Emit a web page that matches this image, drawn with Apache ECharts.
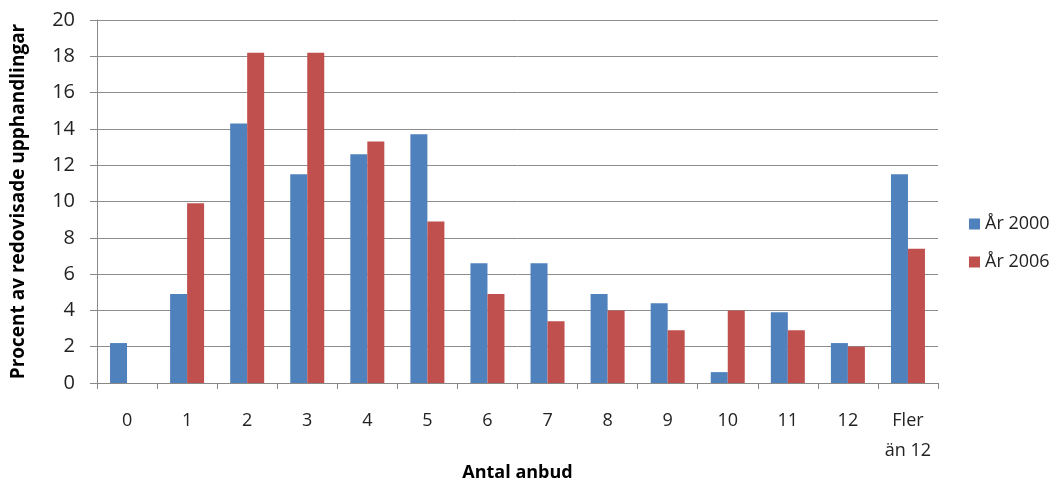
<!DOCTYPE html>
<html><head><meta charset="utf-8">
<script src="https://cdn.jsdelivr.net/npm/echarts@6/dist/echarts.min.js"></script>
<style>html,body{margin:0;padding:0;background:#fff}#c{width:1062px;height:483px}</style>
</head><body><div id="c"></div>
<script>
const categories = ['0','1','2','3','4','5','6','7','8','9','10','11','12','Fler\nän 12'];
const year2000 = [2.2, 4.9, 14.3, 11.5, 12.6, 13.7, 6.6, 6.6, 4.9, 4.4, 0.6, 3.9, 2.2, 11.5];
const year2006 = [0, 9.9, 18.2, 18.2, 13.3, 8.9, 4.9, 3.4, 4.0, 2.9, 4.0, 2.9, 2.0, 7.4];
const yTicks = {min: 0, max: 20, interval: 2};
const FONT = "'Open Sans',sans-serif";
const chart = echarts.init(document.getElementById('c'), null, {renderer:'canvas'});
chart.setOption({
  animation: false,
  grid: {left: 97, right: 124, top: 20, bottom: 100, containLabel: false, outerBoundsMode: 'none'},
  legend: {
    orient: 'vertical', left: 964, top: 210, itemWidth: 11, itemHeight: 11, itemGap: 20,
    icon: 'rect',
    textStyle: {fontFamily: FONT, fontSize: 18, color: '#222'},
    data: ['År 2000', 'År 2006']
  },
  xAxis: {
    type: 'category', data: categories,
    name: 'Antal anbud', nameLocation: 'middle', nameGap: 81, nameMoveOverlap: false,
    nameTextStyle: {fontFamily: FONT, fontSize: 18, fontWeight: 'bold', color: '#000'},
    axisLine: {lineStyle: {color: '#888', width: 1}},
    axisTick: {show: true, length: 6, interval: 0, alignWithLabel: false, lineStyle: {color: '#888'}},
    axisLabel: {interval: 0, fontFamily: FONT, fontSize: 18, color: '#222', margin: 23, lineHeight: 30}
  },
  yAxis: {
    type: 'value', min: yTicks.min, max: yTicks.max, interval: yTicks.interval,
    name: 'Procent av redovisade upphandlingar', nameLocation: 'middle', nameGap: 69, nameMoveOverlap: false,
    nameTextStyle: {fontFamily: FONT, fontSize: 19, fontWeight: 'bold', color: '#000'},
    axisLine: {show: true, lineStyle: {color: '#888'}},
    axisTick: {show: true, length: 7, lineStyle: {color: '#888'}},
    axisLabel: {fontFamily: FONT, fontSize: 20, color: '#222', margin: 22},
    splitLine: {lineStyle: {color: '#8c8c8c', width: 1}}
  },
  series: [
    {name: 'År 2000', type: 'bar', data: year2000, barWidth: 17, barGap: '0%',
     itemStyle: {color: '#4F81BD'}},
    {name: 'År 2006', type: 'bar', data: year2006, barWidth: 17, barGap: '0%',
     itemStyle: {color: '#C0504D'}}
  ]
});
</script></body></html>
